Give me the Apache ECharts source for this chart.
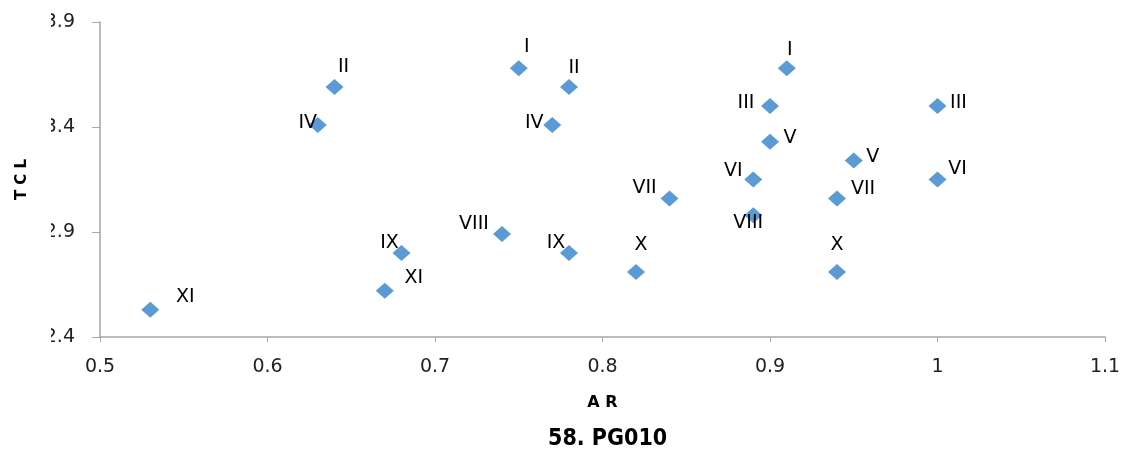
<!DOCTYPE html>
<html><head><meta charset="utf-8">
<script src="https://cdn.jsdelivr.net/npm/echarts@6/dist/echarts.min.js"></script>
<style>html,body{margin:0;padding:0;background:#fff}#c{width:1129px;height:458px}</style>
</head><body><div id="c"></div>
<script>
const labels = ['XI','II','IV','IX','XI','VIII','I','II','IV','IX','X','VII','I','III','V','VI','VIII','X','VII','V','III','VI'];
const arValues = [0.53,0.64,0.63,0.68,0.67,0.74,0.75,0.78,0.77,0.78,0.82,0.84,0.91,0.90,0.90,0.89,0.89,0.94,0.94,0.95,1.00,1.00];
const tclValues = [2.53,3.59,3.41,2.80,2.62,2.89,3.68,3.59,3.41,2.80,2.71,3.06,3.68,3.50,3.33,3.15,2.98,2.71,3.06,3.24,3.50,3.15];
const xTicks = [0.5,0.6,0.7,0.8,0.9,1.0,1.1];
const yTicks = [2.4,2.9,3.4,3.9];
const labelOffsets = [[35,-13],[9,-20],[-10,-2],[-12,-10],[29,-13],[-28,-10],[8,-21],[5,-19],[-18,-2],[-13,-10],[5,-27],[-25,-10],[3,-18],[-24,-3],[20,-4],[-20,-8],[-5,8],[0,-27],[26,-9],[19,-4],[21,-3],[20,-10]];

const data = arValues.map((x,i)=>({value:[x,tclValues[i]],name:labels[i]}));
const chart = echarts.init(document.getElementById('c'));
const axisColor = '#a6a6a6';
chart.setOption({
  animation:false,
  title:{text:'58. PG010',left:543,top:423,textStyle:{fontFamily:'DejaVu Sans Condensed, Liberation Sans, sans-serif',fontWeight:'bold',fontSize:23,color:'#000'}},
  grid:{left:100,right:24,top:22,bottom:121},
  xAxis:{type:'value',min:0.5,max:1.1,interval:0.1,
    name:'A R',nameLocation:'middle',nameGap:58,
    nameTextStyle:{fontFamily:'DejaVu Sans',fontWeight:'bold',fontSize:16,color:'#000'},
    axisLine:{show:true,lineStyle:{color:axisColor,width:1.5}},
    axisTick:{show:true,length:5,lineStyle:{color:axisColor}},
    splitLine:{show:false},
    axisLabel:{fontFamily:'DejaVu Sans',fontSize:19,color:'#222',margin:21,
      formatter:v=>{const t=xTicks.find(t=>Math.abs(t-v)<1e-6);return t===undefined?'':String(t);}}
  },
  yAxis:{type:'value',min:2.4,max:3.9,interval:0.5,
    name:'T C L',nameLocation:'middle',nameGap:70,nameRotate:90,
    nameTextStyle:{fontFamily:'DejaVu Sans',fontWeight:'bold',fontSize:15,color:'#000'},
    axisLine:{show:true,lineStyle:{color:axisColor,width:1.5}},
    axisTick:{show:true,length:8,lineStyle:{color:axisColor}},
    splitLine:{show:false},
    axisLabel:{fontFamily:'DejaVu Sans',fontSize:19,color:'#222',margin:25,
      formatter:v=>{const t=yTicks.find(t=>Math.abs(t-v)<1e-6);return t===undefined?'':t.toFixed(1);}}
  },
  graphic:[
    {type:'rect',shape:{x:0,y:8,width:51,height:28},style:{fill:'#fff'},z:100},
    {type:'rect',shape:{x:0,y:113,width:51,height:28},style:{fill:'#fff'},z:100},
    {type:'rect',shape:{x:0,y:218,width:51,height:28},style:{fill:'#fff'},z:100},
    {type:'rect',shape:{x:0,y:323,width:51,height:28},style:{fill:'#fff'},z:100}
  ],
  series:[{
    type:'scatter',
    symbol:'diamond',
    symbolSize:[18,16],
    itemStyle:{color:'#5b9bd5',opacity:1},
    label:{show:true,position:'inside',formatter:p=>p.name,
      fontFamily:'DejaVu Sans',fontSize:19,color:'#000'},
    labelLayout:function(p){const o=labelOffsets[p.dataIndex];return {dx:o[0],dy:o[1],hideOverlap:false};},
    data:data
  }]
});
</script></body></html>
